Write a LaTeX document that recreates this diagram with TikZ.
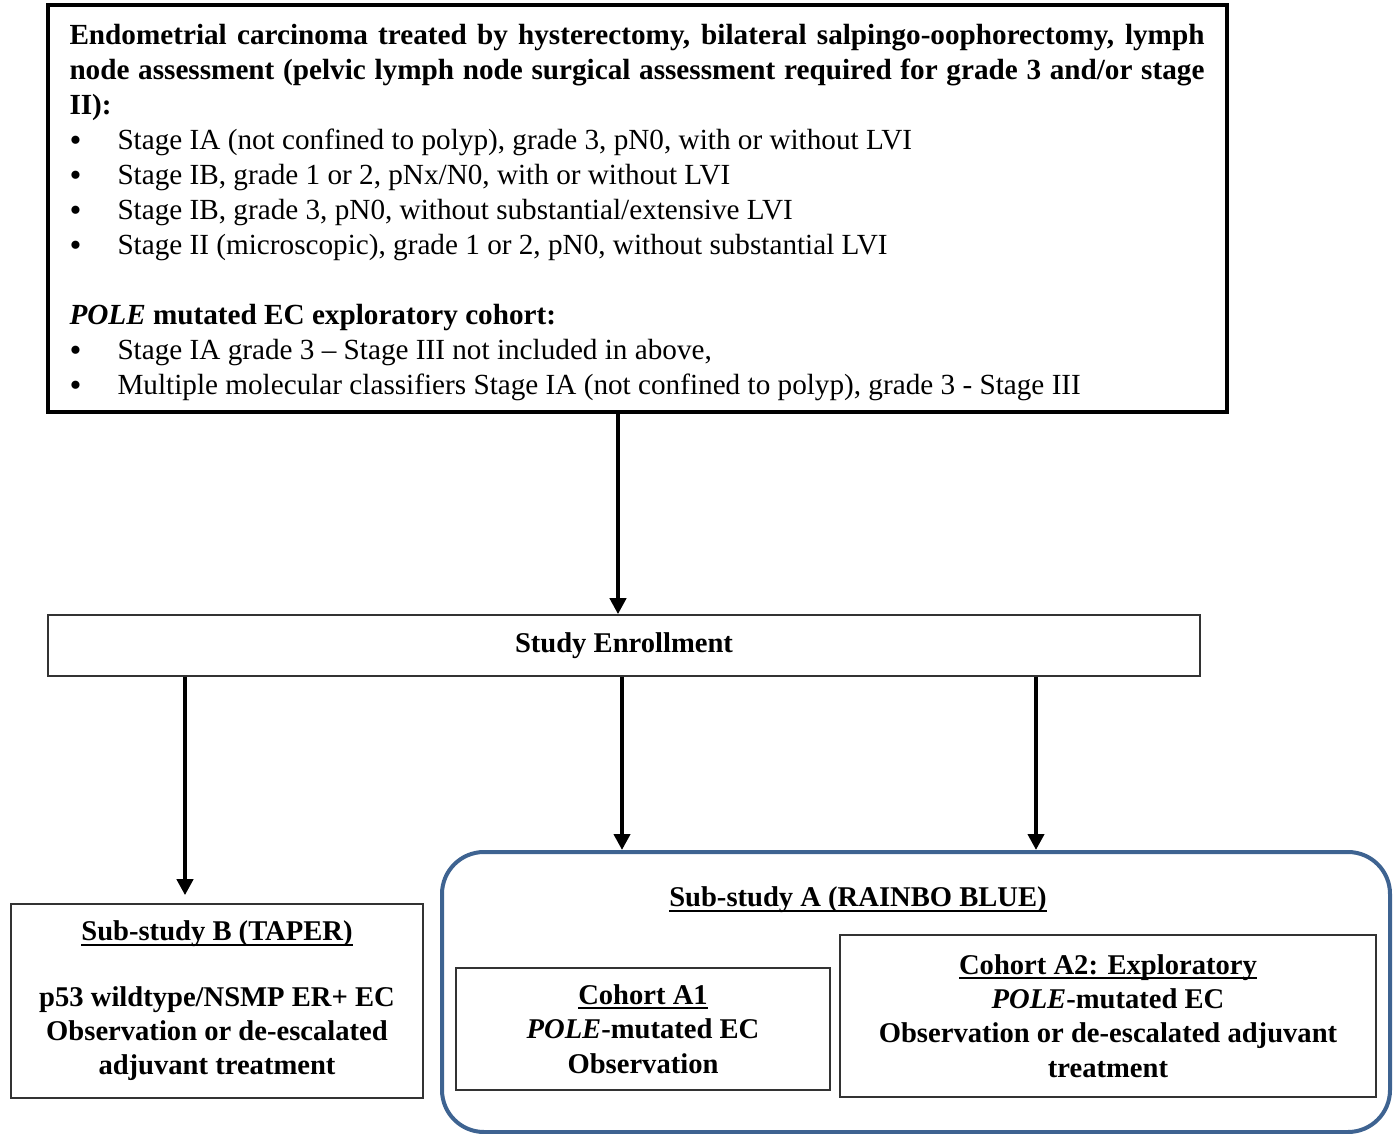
\documentclass[tikz,border=0pt]{standalone}
\usepackage{fontspec}
\setmainfont{Liberation Serif}
\usepackage{xcolor}
\usepackage{tikz}
\usetikzlibrary{arrows.meta, positioning, calc}
\definecolor{rainbo}{RGB}{62,99,145}
\newlength{\undlwd}
\newcommand{\undl}[1]{\settowidth{\undlwd}{#1}\rlap{\rule[-2.4pt]{\undlwd}{0.9pt}}#1}
\newcommand{\bul}{\makebox[24pt][l]{\raisebox{-1pt}{\fontsize{17}{17}\selectfont\textbullet}}}
\newcommand{\fullline}[1]{\makebox[567.5pt][s]{#1}}

\begin{document}
\begin{tikzpicture}[x=0.5pt, y=-0.5pt,
      txt/.style={font=\fontsize{14.6}{17.5}\selectfont},
      mainbox/.style={txt, rectangle, draw=black, line width=2pt, text width=567.5pt, inner xsep=11pt, minimum height=203.5pt, align=justify},
      plainbox/.style={rectangle, draw=black!80, line width=0.8pt, align=center, font=\fontsize{14.3}{17.2}\selectfont\bfseries},
      rbox/.style={rectangle, draw=rainbo, line width=2pt, rounded corners=21pt},
      arr/.style={-{Triangle[length=8pt, width=8pt]}, line width=2pt}]
    \useasboundingbox (0,0) rectangle (1398,1134);
    % eligibility
    \node[mainbox] (crit) at (637,208.5) {%
      \rule{0pt}{14.5pt}\textbf{\fullline{Endometrial carcinoma treated by hysterectomy, bilateral salpingo-oophorectomy, lymph}}\\
      \textbf{\fullline{node assessment (pelvic lymph node surgical assessment required for grade 3 and/or stage}}\\
      \textbf{II):}\\
      \bul Stage IA (not confined to polyp), grade 3, pN0, with or without LVI\\
      \bul Stage IB, grade 1 or 2, pNx/N0, with or without LVI\\
      \bul Stage IB, grade 3, pN0, without substantial/extensive LVI\\
      \bul Stage II (microscopic), grade 1 or 2, pN0, without substantial LVI\\[17.5pt]
      \textbf{\textit{POLE} mutated EC exploratory cohort:}\\
      \bul Stage IA grade 3 -- Stage III not included in above,\\
      \bul Multiple molecular classifiers Stage IA (not confined to polyp), grade 3 - Stage III};
    \node[plainbox, minimum width=576pt, minimum height=30.5pt] (enroll) at (624,645.5) {Study Enrollment};
    % sub-studies
    \node[plainbox, minimum width=206pt, minimum height=97pt] (subB) at (217,1001)
      {\undl{Sub-study B (TAPER)}\\[15.5pt] p53 wildtype/NSMP ER+ EC\\ Observation or de-escalated\\ adjuvant treatment};
    \node[rbox, minimum width=474pt, minimum height=140pt] (subA) at (916,992) {};
    \node[plainbox, draw=none] (subAtitle) at (858,900) {\undl{Sub-study A (RAINBO BLUE)}};
    \node[plainbox, minimum width=187pt, minimum height=61pt] (coA1) at (643,1029)
      {\undl{Cohort A1}\\ \textit{POLE}-mutated EC\\ Observation};
    \node[plainbox, minimum width=268pt, minimum height=81pt] (coA2) at (1108,1016)
      {\undl{Cohort A2: Exploratory}\\ \textit{POLE}-mutated EC\\ Observation or de-escalated adjuvant\\ treatment};
    % arrows
    \draw[arr] ([xshift=-9.5pt]crit.south) -- ([xshift=-3pt]enroll.north);
    \draw[arr] ([xshift=-16pt]enroll.south -| subB.north) -- ([xshift=-16pt, yshift=4pt]subB.north);
    \draw[arr] ([xshift=-147pt]enroll.south -| subA.north) -- ([xshift=-147pt]subA.north);
    \draw[arr] ([xshift=60pt]enroll.south -| subA.north) -- ([xshift=60pt]subA.north);
  \end{tikzpicture}
\end{document}
